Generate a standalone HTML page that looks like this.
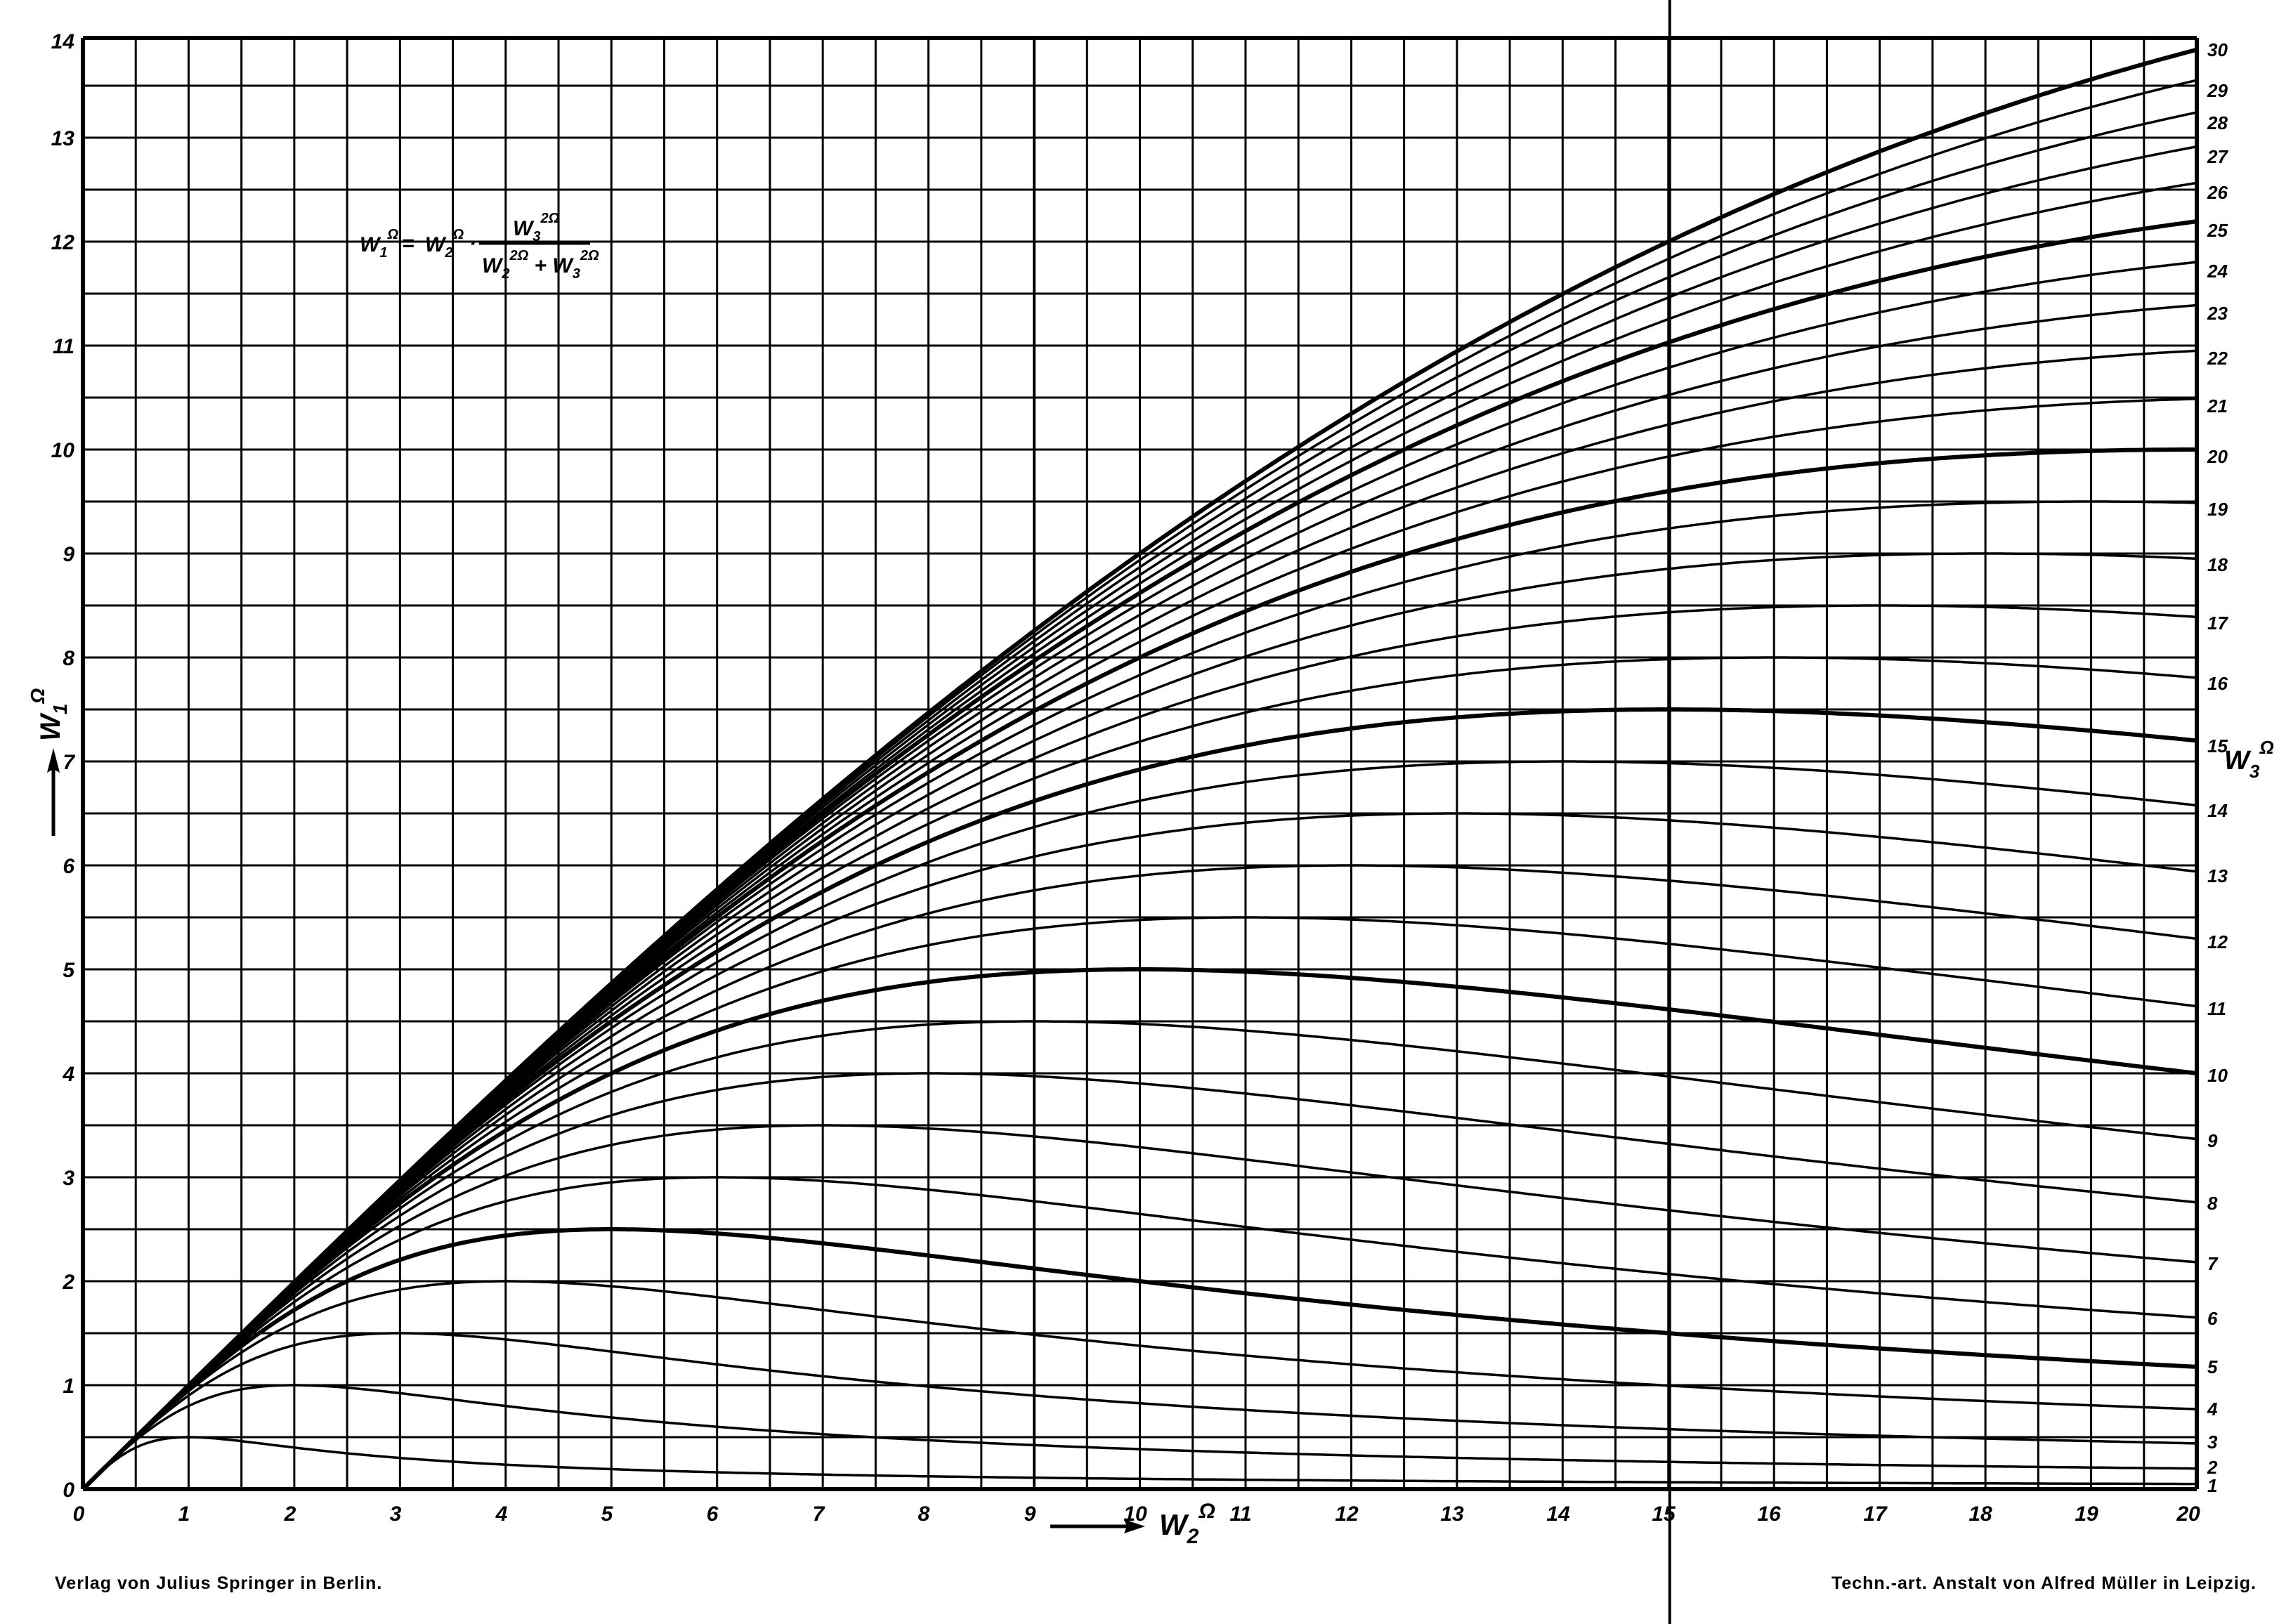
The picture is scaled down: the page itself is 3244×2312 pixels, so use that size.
<!DOCTYPE html>
<html><head><meta charset="utf-8"><style>
html,body{margin:0;padding:0;background:#fff;}
svg{display:block;}
text{font-family:"Liberation Sans",sans-serif;font-style:italic;font-weight:bold;fill:#000;}
.f{font-style:normal;font-weight:bold;font-size:25px;letter-spacing:1px;}
</style></head><body>
<svg id="s" width="3244" height="2312" viewBox="0 0 3244 2312" xmlns="http://www.w3.org/2000/svg">
<g id="grid"></g>
<g id="curves"></g>
<g font-size="30" text-anchor="end">
<text x="106" y="2131">0</text>
<text x="106" y="1983">1</text>
<text x="106" y="1835">2</text>
<text x="106" y="1687">3</text>
<text x="106" y="1539">4</text>
<text x="106" y="1391">5</text>
<text x="106" y="1243">6</text>
<text x="106" y="1095">7</text>
<text x="106" y="947">8</text>
<text x="106" y="799">9</text>
<text x="106" y="651">10</text>
<text x="106" y="503">11</text>
<text x="106" y="355">12</text>
<text x="106" y="207">13</text>
<text x="106" y="69">14</text>
</g>
<g font-size="30" text-anchor="middle">
<text x="112" y="2165">0</text><text x="262" y="2165">1</text><text x="413" y="2165">2</text>
<text x="563" y="2165">3</text><text x="714" y="2165">4</text><text x="864" y="2165">5</text>
<text x="1014" y="2165">6</text><text x="1165" y="2165">7</text><text x="1315" y="2165">8</text>
<text x="1466" y="2165">9</text><text x="1616" y="2165">10</text><text x="1766" y="2165">11</text>
<text x="1917" y="2165">12</text><text x="2067" y="2165">13</text><text x="2218" y="2165">14</text>
<text x="2368" y="2165">15</text><text x="2518" y="2165">16</text><text x="2669" y="2165">17</text>
<text x="2819" y="2165">18</text><text x="2970" y="2165">19</text><text x="3115" y="2165">20</text>
</g>
<g font-size="26">
<text x="3142" y="2124">1</text><text x="3142" y="2098">2</text><text x="3142" y="2062">3</text>
<text x="3142" y="2015">4</text><text x="3142" y="1955">5</text><text x="3142" y="1886">6</text>
<text x="3142" y="1808">7</text><text x="3142" y="1722">8</text><text x="3142" y="1633">9</text>
<text x="3142" y="1540">10</text><text x="3142" y="1445">11</text><text x="3142" y="1350">12</text>
<text x="3142" y="1256">13</text><text x="3142" y="1163">14</text><text x="3142" y="1071">15</text>
<text x="3142" y="982">16</text><text x="3142" y="896">17</text><text x="3142" y="813">18</text>
<text x="3142" y="734">19</text><text x="3142" y="659">20</text><text x="3142" y="587">21</text>
<text x="3142" y="519">22</text><text x="3142" y="455">23</text><text x="3142" y="395">24</text>
<text x="3142" y="337">25</text><text x="3142" y="283">26</text><text x="3142" y="232">27</text>
<text x="3142" y="184">28</text><text x="3142" y="138">29</text><text x="3142" y="80">30</text>
</g>
<text x="1650" y="2185" font-size="42">W<tspan font-size="30" dy="12">2</tspan><tspan font-size="30" dy="-36">Ω</tspan></text>
<line x1="1495" y1="2173" x2="1615" y2="2173" stroke="#000" stroke-width="5"/>
<polygon points="1630,2173 1600,2163 1604,2173 1600,2183" fill="#000"/>
<text x="3166" y="1095" font-size="38">W<tspan font-size="26" dy="12">3</tspan><tspan font-size="26" dy="-34">Ω</tspan></text>
<g transform="translate(85,1055) rotate(-90)"><text x="0" y="0" font-size="40">W<tspan font-size="28" dy="10">1</tspan><tspan font-size="28" dy="-32">Ω</tspan></text></g>
<line x1="76" y1="1190" x2="76" y2="1075" stroke="#000" stroke-width="5"/>
<polygon points="76,1065 67,1100 76,1095 85,1100" fill="#000"/>
<g font-size="30">
<text x="512" y="358">W<tspan font-size="20" dy="8">1</tspan><tspan font-size="20" dy="-26">Ω</tspan></text>
<text x="572" y="356">=</text>
<text x="605" y="358">W<tspan font-size="20" dy="8">2</tspan><tspan font-size="20" dy="-26">Ω</tspan></text>
<text x="668" y="356">·</text>
<text x="730" y="335">W<tspan font-size="20" dy="8">3</tspan><tspan font-size="20" dy="-26">2Ω</tspan></text>
<line x1="682" y1="347" x2="840" y2="347" stroke="#000" stroke-width="3"/>
<text x="686" y="388">W<tspan font-size="20" dy="8">2</tspan><tspan font-size="20" dy="-26">2Ω</tspan><tspan dy="18"> + W</tspan><tspan font-size="20" dy="8">3</tspan><tspan font-size="20" dy="-26">2Ω</tspan></text>
</g>
<text class="f" x="78" y="2262">Verlag von Julius Springer in Berlin.</text>
<text class="f" x="3212" y="2262" text-anchor="end">Techn.-art. Anstalt von Alfred Müller in Leipzig.</text>
</svg>
<script>
(function(){
var X=function(x){return 118+150.45*x;},Y=function(y){return 2120-148*y;};
var ns="http://www.w3.org/2000/svg",g=document.getElementById('grid'),c=document.getElementById('curves');
function ln(p,x1,y1,x2,y2,w){var l=document.createElementNS(ns,'line');l.setAttribute('x1',x1);l.setAttribute('y1',y1);l.setAttribute('x2',x2);l.setAttribute('y2',y2);l.setAttribute('stroke','#000');l.setAttribute('stroke-width',w);p.appendChild(l);}
var yTop=54;
for(var i=0;i<=40;i++){var x=X(i/2);ln(g,x,yTop,x,2120,(i==0||i==40)?6:(i==18?4:3));}
for(var j=0;j<=28;j++){var y=Y(j/2);if(j==28)y=yTop;ln(g,118,y,X(20),y,(j==0||j==28)?6:3);}
ln(g,X(15)+2,0,X(15)+2,2312,4);
for(var w=1;w<=30;w++){var d='';for(var k=0;k<=400;k++){var x=k*0.05;var v=x*w*w/(x*x+w*w);d+=(k?'L':'M')+X(x).toFixed(1)+' '+Y(v).toFixed(1);}
var p=document.createElementNS(ns,'path');p.setAttribute('d',d);p.setAttribute('fill','none');p.setAttribute('stroke','#000');p.setAttribute('stroke-width',w%5==0?6:3.5);c.appendChild(p);}
})();
</script>
</body></html>
